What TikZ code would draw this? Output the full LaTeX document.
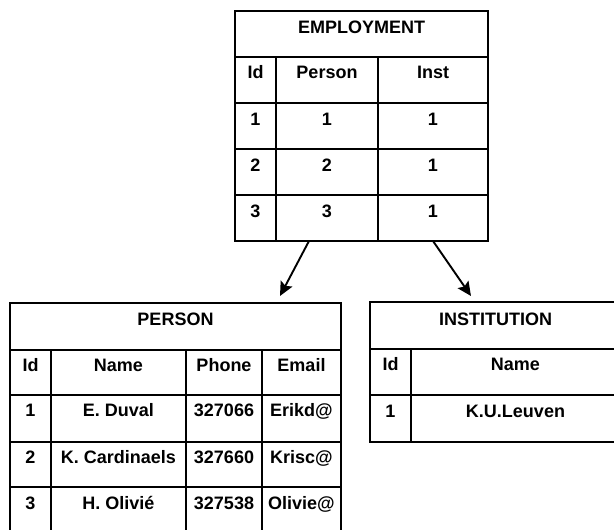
\documentclass[tikz,border=0pt]{standalone}
\usepackage{fontspec}
\setmainfont{Liberation Sans}
\usetikzlibrary{arrows.meta}
\begin{document}
\begin{tikzpicture}[x=1pt,y=-1pt,
  grid/.style={line width=1.7pt,line cap=rect},
  txt/.style={anchor=base,inner sep=0pt,font=\fontsize{18}{20}\selectfont\bfseries},
  link/.style={line width=1.9pt,-{Stealth[length=14pt,width=13pt,inset=2.5pt]}}]
\useasboundingbox (0,0) rectangle (614,530);

% EMPLOYMENT table
\draw[grid] (235,11) rectangle (488,241);
\foreach \y in {57,103,149,195} \draw[grid] (235,\y) -- (488,\y);
\foreach \x in {276,378} \draw[grid] (\x,57) -- (\x,241);
\node[txt] (emp) at (361.5,33) {EMPLOYMENT};
\node[txt] (emp-id) at (255.5,78) {Id};
\node[txt] (emp-person) at (327,78) {Person};
\node[txt] (emp-inst) at (433,78) {Inst};
\node[txt] (emp-id1) at (255.5,125) {1};
\node[txt] (emp-p1) at (327,125) {1};
\node[txt] (emp-i1) at (433,125) {1};
\node[txt] (emp-id2) at (255.5,171) {2};
\node[txt] (emp-p2) at (327,171) {2};
\node[txt] (emp-i2) at (433,171) {1};
\node[txt] (emp-id3) at (255.5,217) {3};
\node[txt] (emp-p3) at (327,217) {3};
\node[txt] (emp-i3) at (433,217) {1};

% PERSON table (runs past the lower edge)
\draw[grid] (10,531) -- (10,303) -- (341,303) -- (341,531);
\foreach \y in {350,395,442,487} \draw[grid] (10,\y) -- (341,\y);
\foreach \x in {51,186,262} \draw[grid] (\x,350) -- (\x,531);
\node[txt] (per) at (175.5,325) {PERSON};
\node[txt] (per-id) at (30.5,371) {Id};
\node[txt] (per-name) at (118.5,371) {Name};
\node[txt] (per-phone) at (224,371) {Phone};
\node[txt] (per-email) at (301.5,371) {Email};
\node[txt] (per-id1) at (30.5,416) {1};
\node[txt] (per-n1) at (118.5,416) {E. Duval};
\node[txt] (per-ph1) at (224,416) {327066};
\node[txt] (per-e1) at (301.5,416) {Erikd@};
\node[txt] (per-id2) at (30.5,463) {2};
\node[txt] (per-n2) at (118.5,463) {K. Cardinaels};
\node[txt] (per-ph2) at (224,463) {327660};
\node[txt] (per-e2) at (301.5,463) {Krisc@};
\node[txt] (per-id3) at (30.5,509) {3};
\node[txt] (per-n3) at (118.5,509) {H. Olivié};
\node[txt] (per-ph3) at (224,509) {327538};
\node[txt] (per-e3) at (301.5,509) {Olivie@};

% INSTITUTION table (runs past the right edge)
\draw[grid] (615,302) -- (370,302) -- (370,442) -- (615,442);
\foreach \y in {349,395} \draw[grid] (370,\y) -- (615,\y);
\draw[grid] (411,349) -- (411,442);
\node[txt] (ins) at (495.5,325) {INSTITUTION};
\node[txt] (ins-id) at (390.5,370) {Id};
\node[txt] (ins-name) at (515.5,370) {Name};
\node[txt] (ins-id1) at (390.5,417) {1};
\node[txt] (ins-n1) at (515.5,417) {K.U.Leuven};

% foreign-key links
\coordinate (emp-pout) at (309,241);
\coordinate (emp-iout) at (433,241);
\coordinate (per-in) at (280,296);
\coordinate (ins-in) at (471,296);
\draw[link] (emp-pout) -- (per-in);
\draw[link] (emp-iout) -- (ins-in);
\end{tikzpicture}
\end{document}
